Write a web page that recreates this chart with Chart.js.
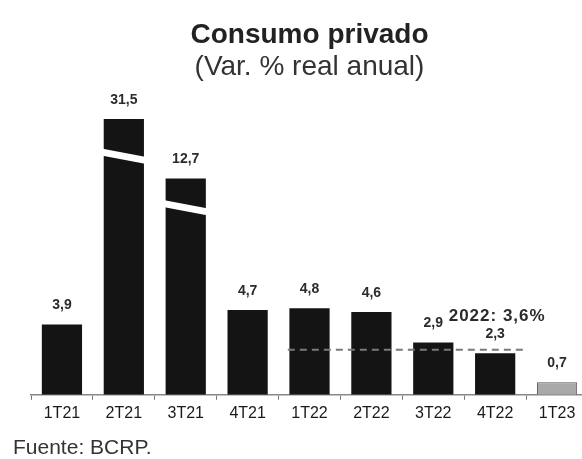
<!DOCTYPE html>
<html>
<head>
<meta charset="utf-8">
<script src="https://cdn.jsdelivr.net/npm/chart.js@4.4.1/dist/chart.umd.min.js"></script>
<style>
  html, body { margin: 0; padding: 0; background: #fff; overflow: hidden; }
  #wrap { width: 590px; height: 459px; }
</style>
</head>
<body>
<div id="wrap"><canvas id="consumo-chart" width="590" height="459"></canvas></div>
<script>
const trimestres = ['1T21', '2T21', '3T21', '4T21', '1T22', '2T22', '3T22', '4T22', '1T23'];
const variacion = [3.9, 31.5, 12.7, 4.7, 4.8, 4.6, 2.9, 2.3, 0.7];
// altura con la que se dibuja cada barra (2T21 y 3T21 van cortadas)
const alturaDibujada = [3.9, 15.3, 12.0, 4.7, 4.8, 4.6, 2.9, 2.3, 0.7];
const trimestresPromedio = ['1T22', '4T22'];
const promedio2022 = 3.6;
const nivelLineaPromedio = 2.5;
const rangoY = [0, 16];

const fmt = (v) => v.toFixed(1).replace('.', ',');
const FONT = "'Liberation Sans', Arial, sans-serif";

const extras = {
  id: 'extras',
  afterDatasetsDraw(chart) {
    const ctx = chart.ctx;
    const x = chart.scales.x;
    const y = chart.scales.y;
    const meta = chart.getDatasetMeta(0);
    ctx.save();

    // cortes blancos en las barras que no caben
    meta.data.forEach((bar, i) => {
      if (variacion[i] <= alturaDibujada[i]) return;
      const h = bar.base - bar.y;
      const yc = bar.base - h * 0.865;
      const half = bar.width / 2 + 1;
      ctx.fillStyle = '#fff';
      ctx.beginPath();
      ctx.moveTo(bar.x - half, yc - 7.5);
      ctx.lineTo(bar.x + half, yc + 0.5);
      ctx.lineTo(bar.x + half, yc + 7.5);
      ctx.lineTo(bar.x - half, yc - 0.5);
      ctx.closePath();
      ctx.fill();
    });

    // linea del promedio 2022
    const paso = x.getPixelForValue(1) - x.getPixelForValue(0);
    const i0 = trimestres.indexOf(trimestresPromedio[0]);
    const i1 = trimestres.indexOf(trimestresPromedio[1]);
    const yl = y.getPixelForValue(nivelLineaPromedio);
    ctx.strokeStyle = '#7a7a7a';
    ctx.lineWidth = 2;
    ctx.setLineDash([7, 5]);
    ctx.beginPath();
    ctx.moveTo(x.getPixelForValue(i0) - paso * 0.35, yl);
    ctx.lineTo(x.getPixelForValue(i1) + paso * 0.52, yl);
    ctx.stroke();
    ctx.setLineDash([]);

    // etiquetas de valores
    ctx.fillStyle = '#2b2b2b';
    ctx.font = 'bold 14px ' + FONT;
    ctx.textAlign = 'center';
    ctx.textBaseline = 'middle';
    meta.data.forEach((bar, i) => {
      ctx.fillText(fmt(variacion[i]), bar.x, bar.y - 19);
    });

    const barPromedio = meta.data[i1];
    ctx.font = 'bold 17px ' + FONT;
    ctx.letterSpacing = '1px';
    ctx.fillText('2022: ' + fmt(promedio2022) + '%', barPromedio.x + 2, barPromedio.y - 37);
    ctx.letterSpacing = '0px';

    // fuente
    ctx.font = '21px ' + FONT;
    ctx.fillStyle = '#333';
    ctx.textAlign = 'left';
    ctx.fillText('Fuente: BCRP.', 13, 448);
    ctx.restore();
  }
};

const ctx = document.getElementById('consumo-chart').getContext('2d');
new Chart(ctx, {
  type: 'bar',
  data: {
    labels: trimestres,
    datasets: [{
      data: alturaDibujada,
      backgroundColor: trimestres.map((t, i) => i === trimestres.length - 1 ? '#a9a9a9' : '#141414'),
      borderColor: trimestres.map((t, i) => i === trimestres.length - 1 ? '#555' : '#141414'),
      borderWidth: trimestres.map((t, i) => i === trimestres.length - 1 ? 1 : 0),
      barPercentage: 0.65,
      categoryPercentage: 1
    }]
  },
  options: {
    responsive: false,
    animation: false,
    layout: { padding: { left: 31, right: 2, top: 0, bottom: 32 } },
    plugins: {
      legend: { display: false },
      tooltip: { enabled: false },
      title: {
        display: true,
        text: 'Consumo privado',
        color: '#222',
        font: { family: FONT, size: 28, weight: 'bold', lineHeight: 1.2 },
        padding: { top: 18, bottom: 0 }
      },
      subtitle: {
        display: true,
        text: '(Var. % real anual)',
        color: '#333',
        font: { family: FONT, size: 28, weight: 'normal', lineHeight: 1.1 },
        padding: { top: 0, bottom: 24 }
      }
    },
    scales: {
      x: {
        offset: true,
        border: { display: true, color: '#888', width: 1.5 },
        grid: { display: true, offset: true, drawOnChartArea: false, drawTicks: true, tickLength: 5, color: '#777' },
        ticks: { color: '#1a1a1a', padding: 4, font: { family: FONT, size: 16 } }
      },
      y: {
        display: false,
        min: rangoY[0],
        max: rangoY[1]
      }
    }
  },
  plugins: [extras]
});
</script>
</body>
</html>
